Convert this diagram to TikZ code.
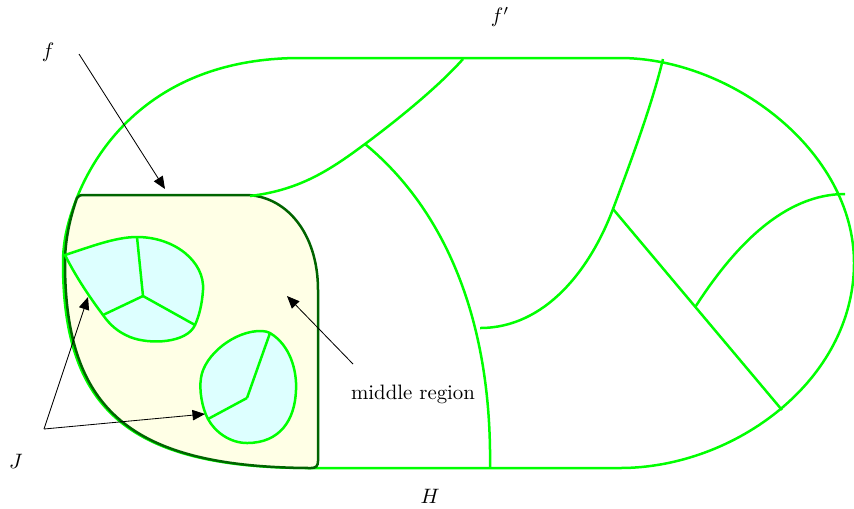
\documentclass[tikz,border=0pt]{standalone}
\usetikzlibrary{arrows.meta,calc}
\definecolor{edgegreen}{RGB}{0,255,0}
\definecolor{darkedge}{RGB}{0,100,0}
\definecolor{yellowfill}{RGB}{255,255,230}
\definecolor{cyanfill}{RGB}{221,255,255}
\begin{document}
\begin{tikzpicture}[x=0.48pt,y=-0.48pt,
  edge/.style={draw=edgegreen,line width=1.2pt},
  bord/.style={draw=darkedge,line width=1.2pt,fill=yellowfill},
  hole/.style={draw=edgegreen,line width=1.2pt,fill=cyanfill},
  pointer/.style={draw=black,line width=0.4pt,-{Triangle[length=6pt,width=5pt]}},
  lab/.style={inner sep=1pt}]
\useasboundingbox (0,0) rectangle (854,508);

% outer boundary
\draw[edge] (300,58) -- (620,58)
  .. controls (730,58) and (854,150) .. (854,263)
  .. controls (854,380) and (735,468) .. (620,468) -- (310,468)
  .. controls (130,468) and (63,410) .. (63,263)
  .. controls (63,240) and (68,220) .. (78,195)
  .. controls (105,130) and (170,58) .. (300,58) -- cycle;

% yellow region
\path[bord] (84,195) -- (245,195)
  .. controls (285,195) and (318,232) .. (318,290) -- (318,461)
  .. controls (318,466) and (316,468) .. (311,468) -- (310,468)
  .. controls (131,467) and (65,410) .. (65,263)
  .. controls (65,240) and (70,218) .. (77,198)
  .. controls (78,196) and (80,195) .. (84,195) -- cycle;

% inner curves of the outer region
\coordinate (a1) at (250,196);
\coordinate (a2) at (365,144);
\coordinate (a3) at (463,59);
\coordinate (b2) at (480,328);
\coordinate (b3) at (490,468);
\coordinate (c2) at (613,209);
\coordinate (c3) at (663,59);
\coordinate (d2) at (782,410);
\coordinate (e1) at ($(c2)!0.487!(d2)$);
\coordinate (e2) at (845,194);

\draw[edge] (a1) .. controls (300,190) and (330,170) .. (a2)
  .. controls (400,118) and (440,85) .. (a3);
\draw[edge] (a2) .. controls (445,210) and (492,320) .. (b3);
\draw[edge] (b2) .. controls (545,328) and (590,270) .. (c2)
  .. controls (636,148) and (653,100) .. (c3);
\draw[edge] (c2) -- (d2);
\draw[edge] (e1) .. controls (735,245) and (785,194) .. (e2);

% upper cyan region
\coordinate (p1) at (65,255);
\coordinate (p2) at (137,237);
\coordinate (p3) at (195,325);
\coordinate (p4) at (103,315);
\coordinate (pc) at (143,296);
\path[hole] (p1) .. controls (90,247) and (115,237) .. (p2)
  .. controls (175,237) and (205,262) .. (203,290)
  .. controls (202,305) and (199,316) .. (p3)
  .. controls (187,343) and (150,345) .. (130,337)
  .. controls (118,332) and (110,325) .. (p4)
  .. controls (88,295) and (75,275) .. (p1) -- cycle;
\draw[edge] (pc) -- (p2);
\draw[edge] (pc) -- (p3);
\draw[edge] (pc) -- (p4);

% lower cyan region
\coordinate (q1) at (270,333);
\coordinate (q2) at (208,419);
\coordinate (qc) at (247,398);
\path[hole] (q1) .. controls (290,345) and (297,370) .. (296,390)
  .. controls (295,420) and (280,443) .. (247,443)
  .. controls (230,443) and (215,432) .. (q2)
  .. controls (202,408) and (199,390) .. (201,378)
  .. controls (204,355) and (235,330) .. (262,331)
  .. controls (265,331) and (268,332) .. (q1) -- cycle;
\draw[edge] (qc) -- (q1);
\draw[edge] (qc) -- (q2);

% labels
\node[lab] (f) at (48,52) {$f$};
\node[lab] (fp) at (500,17) {$f'$};
\node[lab] (H) at (430,496) {$H$};
\node[lab] (J) at (16,461) {$J$};
\node[lab] (mid) at (413,394) {middle region};

% pointers
\coordinate (ftail) at (79,54);
\coordinate (fhead) at (165,189);
\draw[pointer] (ftail) -- (fhead);
\coordinate (jroot) at (44,429);
\coordinate (jhead1) at (88,297);
\coordinate (jhead2) at (205,414);
\draw[pointer] (jroot) -- (jhead1);
\draw[pointer] (jroot) -- (jhead2);
\coordinate (mtail) at (353,364);
\coordinate (mhead) at (287,296);
\draw[pointer] (mtail) -- (mhead);
\end{tikzpicture}
\end{document}
